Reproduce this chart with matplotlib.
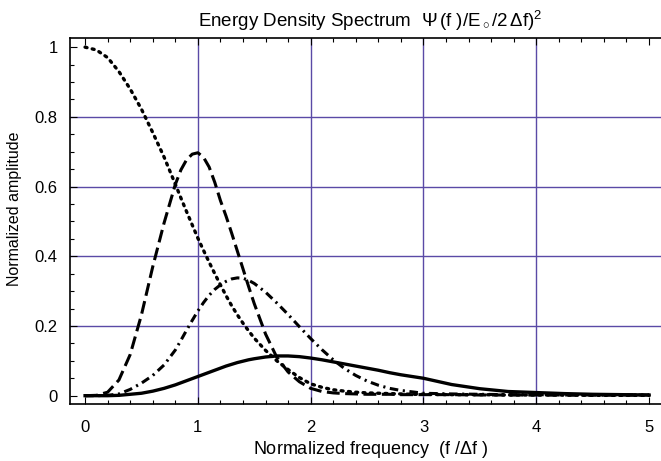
# Energy density spectrum, normalized curves
import matplotlib
matplotlib.use("Agg")
import matplotlib.pyplot as plt
from matplotlib.ticker import MultipleLocator

plt.rcParams["font.family"] = ["Liberation Sans", "DejaVu Sans"]
plt.rcParams["mathtext.fontset"] = "custom"
plt.rcParams["mathtext.rm"] = "Liberation Sans"
plt.rcParams["mathtext.it"] = "Liberation Sans:italic"

# Sample frequencies (f / delta f)
freq = [0.0, 0.1, 0.2, 0.3, 0.4, 0.5, 0.6, 0.7, 0.8, 0.85, 0.9, 0.95,
        1.0, 1.05, 1.1, 1.15, 1.2, 1.25, 1.3, 1.35, 1.4, 1.45, 1.5, 1.6, 1.7, 1.8, 1.9,
        2.0, 2.1, 2.2, 2.3, 2.4, 2.5, 2.6, 2.7, 2.8, 2.9,
        3.0, 3.25, 3.5, 3.75, 4.0, 4.25, 4.5, 4.75, 5.0]

# Dotted curve
dotted_vals = [1.000, 0.992, 0.970, 0.930, 0.880, 0.822, 0.755, 0.685, 0.607, 0.567, 0.528, 0.490,
               0.452, 0.417, 0.383, 0.350, 0.318, 0.287, 0.258, 0.232, 0.208, 0.186, 0.165,
               0.130, 0.100, 0.075, 0.052,
               0.034, 0.024, 0.017, 0.013, 0.010, 0.008, 0.007, 0.006, 0.005, 0.004,
               0.004, 0.003, 0.003, 0.002, 0.002, 0.002, 0.001, 0.001, 0.001]

# Dashed curve
dashed_vals = [0.000, 0.001, 0.010, 0.045, 0.118, 0.232, 0.370, 0.495, 0.606, 0.648, 0.677, 0.693,
               0.697, 0.684, 0.656, 0.612, 0.560, 0.515, 0.466, 0.415, 0.364, 0.313, 0.264,
               0.177, 0.110, 0.068, 0.040,
               0.021, 0.012, 0.008, 0.006, 0.005, 0.004, 0.004, 0.004, 0.003, 0.003,
               0.003, 0.003, 0.002, 0.002, 0.002, 0.002, 0.002, 0.002, 0.002]

# Dash-dot curve
dashdot_vals = [0.000, 0.000, 0.001, 0.005, 0.018, 0.036, 0.058, 0.088, 0.131, 0.159, 0.188, 0.216,
                0.243, 0.267, 0.288, 0.305, 0.318, 0.328, 0.335, 0.338, 0.337, 0.331, 0.322,
                0.297, 0.266, 0.233, 0.198,
                0.164, 0.132, 0.103, 0.078, 0.058, 0.042, 0.030, 0.021, 0.015, 0.011,
                0.007, 0.005, 0.004, 0.003, 0.003, 0.002, 0.002, 0.002, 0.002]

# Solid curve
solid_vals = [0.000, 0.000, 0.000, 0.001, 0.004, 0.007, 0.013, 0.021, 0.031, 0.037, 0.043, 0.049,
              0.055, 0.061, 0.067, 0.073, 0.079, 0.085, 0.090, 0.095, 0.099, 0.103, 0.106,
              0.111, 0.114, 0.114, 0.112,
              0.108, 0.103, 0.097, 0.091, 0.085, 0.079, 0.073, 0.066, 0.060, 0.055,
              0.050, 0.032, 0.020, 0.012, 0.009, 0.006, 0.004, 0.003, 0.002]

x_ticks = [0, 1, 2, 3, 4, 5]
y_ticks = [0, 0.2, 0.4, 0.6, 0.8, 1]
y_tick_labels = ["0", "0.2", "0.4", "0.6", "0.8", "1"]
grid_x = [1, 2, 3, 4]
grid_y = [0.2, 0.4, 0.6, 0.8]

fig = plt.figure(figsize=(6.61, 4.61), dpi=100)
ax = fig.add_axes([0.106, 0.123, 0.894, 0.794])

grid_color = "#5a4aa6"
for gx in grid_x:
    ax.axvline(gx, color=grid_color, lw=1.0, zorder=1)
for gy in grid_y:
    ax.axhline(gy, color=grid_color, lw=1.0, zorder=1)

ax.plot(freq, dotted_vals, color="black", lw=2.4, linestyle=(0, (0.6, 1.6)),
        dash_capstyle="round", zorder=3)
ax.plot(freq, dashed_vals, color="black", lw=2.2, linestyle=(0, (4.2, 1.8)), zorder=3)
ax.plot(freq, dashdot_vals, color="black", lw=2.2,
        linestyle=(0, (2.8, 1.5, 0.7, 1.5)), zorder=3)
ax.plot(freq, solid_vals, color="black", lw=2.4, zorder=3)

ax.set_xlim(-0.133, 5.106)
ax.set_ylim(-0.0247, 1.0255)

ax.set_xticks(x_ticks)
ax.set_yticks(y_ticks)
ax.set_yticklabels(y_tick_labels)
ax.xaxis.set_minor_locator(MultipleLocator(0.2))
ax.yaxis.set_minor_locator(MultipleLocator(0.05))
ax.tick_params(which="both", direction="in", top=True, right=False,
               labelsize=12, width=0.8)
ax.tick_params(which="major", length=5)
ax.tick_params(which="minor", length=3)
ax.tick_params(axis="x", pad=11)
ax.tick_params(axis="y", pad=9)
ax.spines["right"].set_visible(False)
for side in ["left", "bottom", "top"]:
    ax.spines[side].set_linewidth(1.2)

ax.set_title(r"Energy Density Spectrum  $\Psi\,$(f )/E$_\circ$/2$\,\Delta$f)$^2$",
             fontsize=13.5, pad=8, x=0.508)
ax.set_xlabel(r"Normalized frequency  (f /$\Delta$f )", fontsize=13)
ax.set_ylabel("Normalized amplitude", fontsize=11.5)
ax.xaxis.set_label_coords(0.509, -0.094)
ax.yaxis.set_label_coords(-0.082, 0.534)

fig.savefig("out.png", dpi=100)
